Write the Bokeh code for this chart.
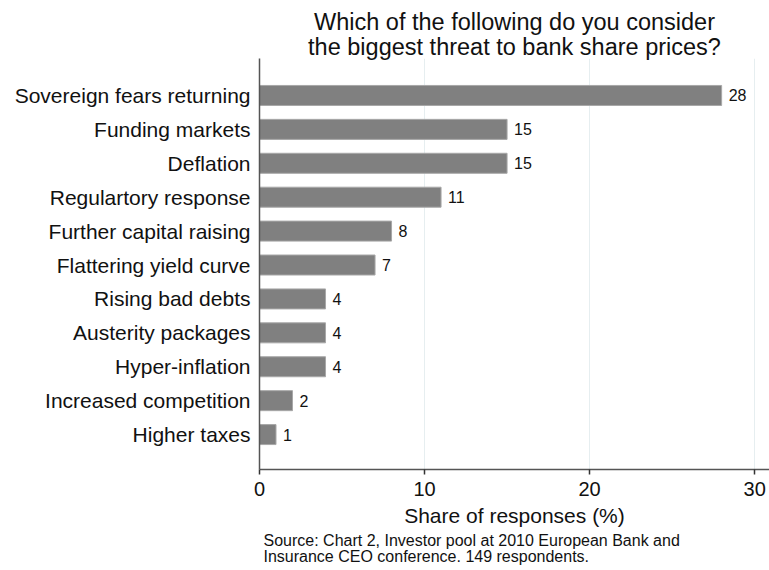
from bokeh.plotting import figure
from bokeh.models import ColumnDataSource, FixedTicker, Range1d, Title
from bokeh.core.properties import value
from bokeh.embed import file_html
from bokeh.resources import INLINE

categories = ["Sovereign fears returning", "Funding markets", "Deflation",
              "Regulartory response", "Further capital raising", "Flattering yield curve",
              "Rising bad debts", "Austerity packages", "Hyper-inflation",
              "Increased competition", "Higher taxes"]
shares = [28, 15, 15, 11, 8, 7, 4, 4, 4, 2, 1]
x_ticks = [0, 10, 20, 30]
title_lines = ["Which of the following do you consider", "the biggest threat to bank share prices?"]
x_label = "Share of responses (%)"
source_lines = ["Source: Chart 2, Investor pool at 2010 European Bank and",
                "Insurance CEO conference. 149 respondents."]

n = len(categories)
ypos = [n - 1 - i for i in range(n)]
src = ColumnDataSource(dict(y=ypos, v=shares, lab=[str(s) for s in shares], cat=categories))

FONT = "Liberation Sans"
TXT = "#111111"

p = figure(width=769, height=570, output_backend="svg", toolbar_location=None,
           x_range=Range1d(0, 30.9), y_range=Range1d(-1.03, n - 1 + 1.09),
           min_border_left=259, min_border_right=0, min_border_top=58, min_border_bottom=101)
p.outline_line_color = None
p.background_fill_color = "white"
p.border_fill_color = "white"

p.hbar(y="y", right="v", left=0, height=0.59, source=src,
       fill_color="#808080", line_color="#a8a8a8", line_width=1)
p.text(x="v", y="y", text="lab", source=src, x_offset=7, text_baseline="middle",
       text_align="left", text_font=value(FONT), text_font_size="16px", text_color=TXT)

# x axis
p.xaxis.ticker = FixedTicker(ticks=x_ticks)
p.xaxis.axis_label = x_label
p.xaxis.axis_label_text_font = FONT
p.xaxis.axis_label_text_font_size = "21px"
p.xaxis.axis_label_text_font_style = "normal"
p.xaxis.axis_label_text_color = TXT
p.xaxis.axis_label_standoff = 5
p.xaxis.major_label_text_font = FONT
p.xaxis.major_label_text_font_size = "20px"
p.xaxis.major_label_text_color = TXT
p.xaxis.major_label_standoff = 7
p.xaxis.major_tick_out = 5
p.xaxis.major_tick_in = 0
p.xaxis.minor_tick_line_color = None
p.xaxis.axis_line_color = "#555555"
p.xaxis.axis_line_width = 1.5
p.xaxis.major_tick_line_color = "#333333"
p.xaxis.major_tick_line_width = 1.5

# y axis
p.yaxis.ticker = FixedTicker(ticks=ypos)
p.yaxis.major_label_overrides = {y: c for y, c in zip(ypos, categories)}
p.yaxis.major_label_text_font = FONT
p.yaxis.major_label_text_font_size = "21px"
p.yaxis.major_label_text_color = TXT
p.yaxis.major_label_standoff = 3
p.yaxis.major_tick_line_color = None
p.yaxis.minor_tick_line_color = None
p.yaxis.axis_line_color = "#555555"
p.yaxis.axis_line_width = 1.5

p.xgrid.grid_line_color = "#e6eef0"
p.xgrid.grid_line_width = 1
p.ygrid.grid_line_color = None

# title: later-added titles sit further out
for t in reversed(title_lines):
    p.add_layout(Title(text=t, align="center", offset=4, text_font=FONT, text_font_size="23.5px",
                       text_font_style="normal", text_color=TXT, standoff=-3), "above")

# source note below the x axis
for i, t in enumerate(source_lines):
    p.add_layout(Title(text=t, align="left", offset=4, text_font=FONT, text_font_size="16px",
                       text_font_style="normal", text_color=TXT,
                       standoff=(0 if i == 0 else -5)), "below")

open("out.html", "w").write(file_html(p, INLINE))
